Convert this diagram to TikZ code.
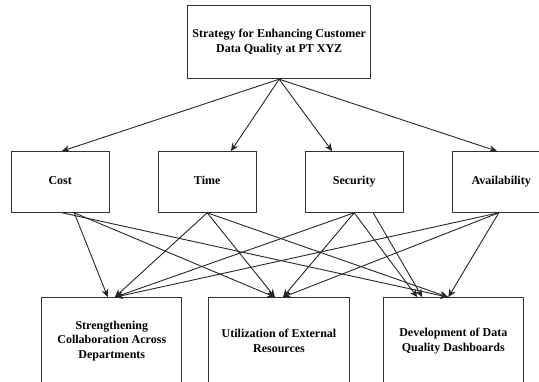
\documentclass[tikz,border=0pt]{standalone}
\usepackage{fontspec}
\setmainfont{Liberation Serif}
\usepackage{tikz}
\usetikzlibrary{arrows.meta,positioning}

\begin{document}
\begin{tikzpicture}[x=1pt, y=-1pt, align=center, node distance=48.3pt
                   , font=\bfseries\fontsize{12}{14.8}\selectfont]
    \tikzset{
        n/.style        =   { rectangle
                            , text centered
                            , draw=black!80
                            , line width=1pt
                            , inner sep=0pt
        }
        , goalbox/.style =  { n
                            , minimum width=183pt
                            , minimum height=73.4pt
        }
        , midbox/.style =   { n
                            , minimum width=97.7pt
                            , minimum height=60.6pt
                            , text height=8.4pt
                            , text depth=2.8pt
        }
        , actbox/.style =   { n
                            , minimum width=140.3pt
                            , minimum height=86.6pt
        }
        , arrow/.style  =   { line width=0.9pt
                            , draw=black!85
                            , -{Stealth[length=8pt, width=7pt, inset=2.5pt]}
        }
    }
    \clip (0,0) rectangle (539,382);

    \node(goal)[goalbox, at={(279.2,42)}] {Strategy for Enhancing Customer\\Data Quality at PT XYZ};

    \node(cost)[midbox, at={(60.2,182)}] {Cost};
    \node(time)[midbox, right=of cost]   {Time};
    \node(sec)[midbox, right=of time]    {Security};
    \node(avail)[midbox, right=of sec]   {Availability};

    \node(collab)[actbox, at={(111.8,341)}] {Strengthening\\Collaboration Across\\Departments};
    \node(ext)[actbox, at={(279,341)}]      {Utilization of External\\Resources};
    \node(dash)[actbox, at={(453.3,341)}]   {Development of Data\\Quality Dashboards};

    % goal to criteria
    \draw[arrow] (goal.south) -- ([xshift=1.5pt]cost.north);
    \draw[arrow] (goal.south) -- ([xshift=23.7pt]time.north);
    \draw[arrow] (goal.south) -- ([xshift=-22pt]sec.north);
    \draw[arrow] (goal.south) -- ([xshift=-4pt]avail.north);

    % criteria to alternatives
    \draw[arrow] ([xshift=14pt]cost.south) -- ([xshift=-4pt]collab.north);
    \draw[arrow] ([xshift=14pt]cost.south) -- ([xshift=-4pt]ext.north);
    \draw[arrow] ([xshift=2pt]cost.south)  -- ([xshift=-5pt]dash.north);

    \draw[arrow] (time.south) -- ([xshift=3pt]collab.north);
    \draw[arrow] (time.south) -- ([xshift=-4pt]ext.north);
    \draw[arrow] (time.south) -- ([xshift=-5pt]dash.north);

    \draw[arrow] (sec.south) -- ([xshift=3pt]collab.north);
    \draw[arrow] (sec.south) -- ([xshift=4pt]ext.north);
    \draw[arrow] (sec.south) -- ([xshift=-36pt]dash.north);
    \draw[arrow] ([xshift=19pt]sec.south) -- ([xshift=-31pt]dash.north);

    \draw[arrow] ([xshift=-2.4pt]avail.south) -- ([xshift=3pt]collab.north);
    \draw[arrow] ([xshift=-2.4pt]avail.south) -- ([xshift=4pt]ext.north);
    \draw[arrow] ([xshift=-2.4pt]avail.south) -- ([xshift=-5pt]dash.north);
\end{tikzpicture}
\end{document}
